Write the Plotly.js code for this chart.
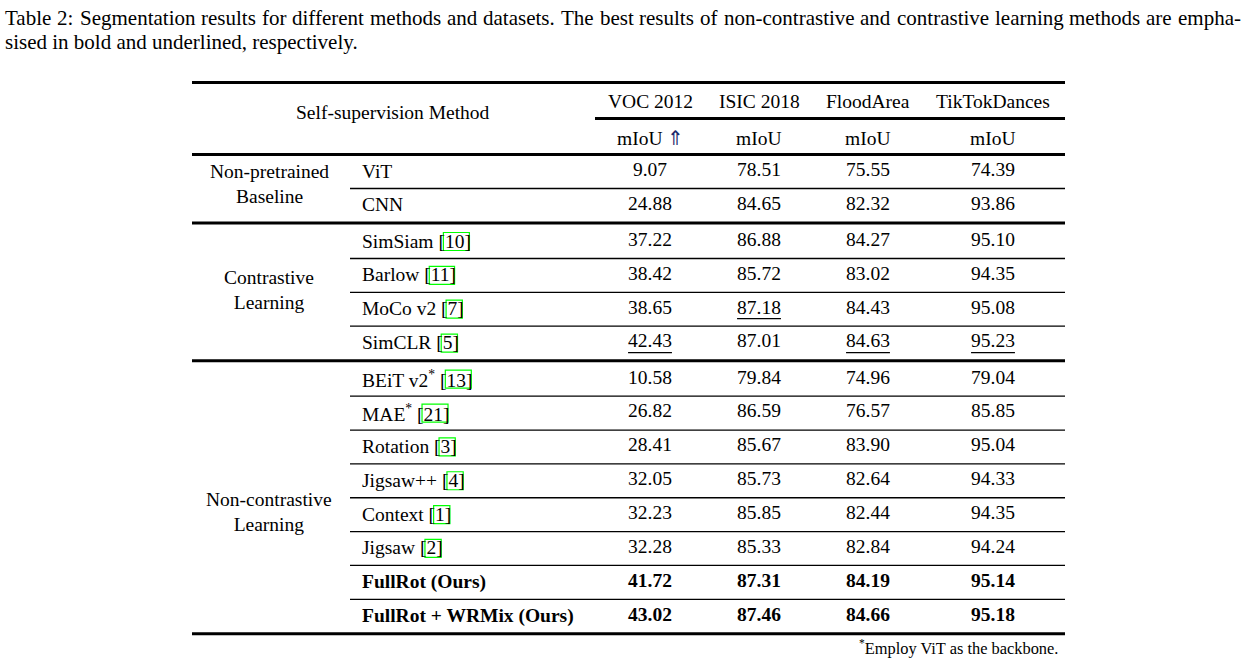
<!DOCTYPE html>
<html>
<head>
<meta charset="utf-8">
<script src="https://cdn.plot.ly/plotly-3.0.1.min.js"></script>
<style>html,body{margin:0;padding:0;background:#fff}</style>
</head>
<body>
<div id="chart" style="width:1251px;height:662px"></div>
<script>
// ---------------- data ----------------
const captionLine1 = "Table 2: Segmentation results for different methods and datasets. The best results of non-contrastive and contrastive learning methods are empha-";
const captionLine2 = "sised in bold and underlined, respectively.";
const headerMethod = "Self-supervision Method";
const datasets = ["VOC 2012", "ISIC 2018", "FloodArea", "TikTokDances"];
const metrics = ["mIoU", "mIoU", "mIoU", "mIoU"];
const groupLabels = ["Non-pretrained<br>Baseline", "Contrastive<br>Learning", "Non-contrastive<br>Learning"];
const groupSizes = [2, 4, 8];
const methods = ["ViT", "CNN", "SimSiam", "Barlow", "MoCo v2", "SimCLR", "BEiT v2", "MAE", "Rotation", "Jigsaw++", "Context", "Jigsaw", "FullRot (Ours)", "FullRot + WRMix (Ours)"];
const methodRefs = [null, null, "10", "11", "7", "5", "13", "21", "3", "4", "1", "2", null, null];
const methodStar = [false, false, false, false, false, false, true, true, false, false, false, false, false, false];
const oursRows = [false, false, false, false, false, false, false, false, false, false, false, false, true, true];
const voc    = [9.07, 24.88, 37.22, 38.42, 38.65, 42.43, 10.58, 26.82, 28.41, 32.05, 32.23, 32.28, 41.72, 43.02];
const isic   = [78.51, 84.65, 86.88, 85.72, 87.18, 87.01, 79.84, 86.59, 85.67, 85.73, 85.85, 85.33, 87.31, 87.46];
const flood  = [75.55, 82.32, 84.27, 83.02, 84.43, 84.63, 74.96, 76.57, 83.90, 82.64, 82.44, 82.84, 84.19, 84.66];
const tiktok = [74.39, 93.86, 95.10, 94.35, 95.08, 95.23, 79.04, 85.85, 95.04, 94.33, 94.35, 94.24, 95.14, 95.18];
const footnote = "Employ ViT as the backbone.";

// ---------------- layout constants ----------------
const FONT = 'Liberation Serif';
const FS = 19.5, CAP_FS = 21, FOOT_FS = 16.4;
const colX = [650, 759, 868, 993];
const methodX = 362, groupX = 269;
const tableL = 192, tableR = 1065, thinL = 350, cmidL = 595;
const groupLabelY = [184, 289.5, 511.5];
const headY1 = 101, headY2 = 138, headMethodY = 112;
const arrowColor = '#1c2a6c';

// row centres
const rowY = [];
let g = 0, cnt = 0;
for (let i = 0; i < methods.length; i++) {
  if (cnt >= groupSizes[g]) { g++; cnt = 0; }
  rowY.push(171 + i * 33.85 + g * 2.3);
  cnt++;
}
const groupOfRow = [];
groupSizes.forEach((s, gi) => { for (let k = 0; k < s; k++) groupOfRow.push(gi); });

// text measuring
const cv = document.createElement('canvas').getContext('2d');
function tw(t, size, bold) { cv.font = (bold ? 'bold ' : '') + size + 'px "Liberation Serif"'; return cv.measureText(t).width; }

const ann = [];
const shapes = [];
function A(x, y, text, o) {
  ann.push(Object.assign({x: x, y: y, xref: 'x', yref: 'y', text: text, showarrow: false,
    xanchor: 'center', yanchor: 'middle', borderpad: 0, borderwidth: 0,
    font: {family: FONT, size: FS, color: '#000'}}, o || {}));
}
function L(x0, x1, y, w) {
  shapes.push({type: 'line', xref: 'x', yref: 'y', x0: x0, x1: x1, y0: y, y1: y, line: {color: '#000', width: w}});
}

// caption line 1, justified word by word
const words = captionLine1.split(' ');
const ww = words.map(w => tw(w, CAP_FS));
const sumW = ww.reduce((a, b) => a + b, 0);
const gap = (1241 - 5 - sumW) / (words.length - 1);
let cx = 5;
words.forEach((w, i) => { A(cx, 18, w, {xanchor: 'left', font: {family: FONT, size: CAP_FS, color: '#000'}}); cx += ww[i] + gap; });
A(5, 42, captionLine2, {xanchor: 'left', font: {family: FONT, size: CAP_FS, color: '#000'}});

// header
A(393, headMethodY, headerMethod);
datasets.forEach((d, j) => A(colX[j], headY1, d));
metrics.forEach((m, j) => A(colX[j], headY2, j === 0 ? m + ' <span style="color:' + arrowColor + '">⇑</span>' : m));

// group labels
groupLabels.forEach((t, gi) => A(groupX, groupLabelY[gi], t));

// method names + citation boxes
methods.forEach((m, i) => {
  const bold = oursRows[i];
  let txt = bold ? '<b>' + m + '</b>' : m;
  if (methodStar[i]) txt += '<sup>*</sup>';
  if (methodRefs[i]) txt += ' [' + methodRefs[i] + ']';
  A(methodX, rowY[i], txt, {xanchor: 'left'});
  if (methodRefs[i]) {
    let pre = tw(m, FS) + (methodStar[i] ? tw('*', FS * 0.7) : 0) + tw(' [', FS);
    const dx = methodX + pre;
    const w = tw(methodRefs[i], FS);
    shapes.push({type: 'rect', xref: 'x', yref: 'y', x0: dx - 1.5, x1: dx + w + 5, y0: rowY[i] - 8.5, y1: rowY[i] + 9.5,
      line: {color: '#00ff00', width: 1.2}, fillcolor: 'rgba(0,0,0,0)'});
  }
});

// values: bold for ours, underline for best contrastive per column
const cols = [voc, isic, flood, tiktok];
const tx = [], ty = [], tt = [];
cols.forEach((arr, j) => {
  const contrIdx = arr.map((v, i) => i).filter(i => groupOfRow[i] === 1);
  const best = contrIdx.reduce((b, i) => arr[i] > arr[b] ? i : b, contrIdx[0]);
  arr.forEach((v, i) => {
    let s = v.toFixed(2);
    const w = tw(s, FS, oursRows[i]);
    if (oursRows[i]) s = '<b>' + s + '</b>';
    if (i === best) {
      L(colX[j] - w / 2, colX[j] + w / 2, rowY[i] + 10, 1.3);
    }
    tx.push(colX[j]); ty.push(rowY[i]); tt.push(s);
  });
});

// rules
L(tableL, tableR, 82.5, 3);
L(cmidL, tableR, 118.5, 3);
L(tableL, tableR, 154.5, 3);
let start = 0;
groupSizes.forEach((s, gi) => {
  for (let k = start; k < start + s - 1; k++) L(thinL, tableR, rowY[k] + 17.5, 1.3);
  const last = rowY[start + s - 1];
  const yb = gi < groupSizes.length - 1 ? (last + rowY[start + s]) / 2 : last + 18;
  L(tableL, tableR, yb, 3);
  start += s;
});

// footnote
A(1058, 647, '<sup>*</sup>' + footnote, {xanchor: 'right', font: {family: FONT, size: FOOT_FS, color: '#000'}});

const trace = {type: 'scatter', mode: 'text', x: tx, y: ty, text: tt, textposition: 'middle center',
  textfont: {family: FONT, size: FS, color: '#000'}, hoverinfo: 'skip', showlegend: false, cliponaxis: false};

Plotly.newPlot('chart', [trace], {
  width: 1251, height: 662, margin: {l: 0, r: 0, t: 0, b: 0},
  paper_bgcolor: '#fff', plot_bgcolor: '#fff',
  xaxis: {range: [0, 1251], visible: false, fixedrange: true},
  yaxis: {range: [662, 0], visible: false, fixedrange: true},
  annotations: ann, shapes: shapes, showlegend: false, hovermode: false
}, {staticPlot: true, displayModeBar: false});
</script>
</body>
</html>
